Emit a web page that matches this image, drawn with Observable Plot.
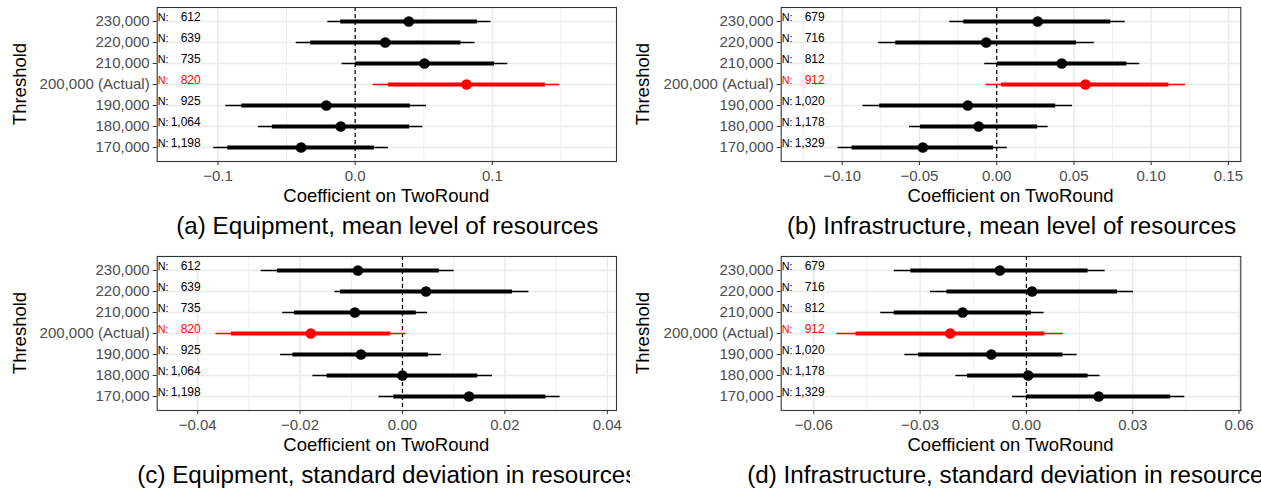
<!DOCTYPE html>
<html>
<head>
<meta charset="utf-8">
<script src="https://cdn.jsdelivr.net/npm/d3@7"></script>
<script src="https://cdn.jsdelivr.net/npm/@observablehq/plot@0.6"></script>
<style>
  body { margin: 0; background: #fff; }
  #root { position: relative; width: 1261px; height: 491px; overflow: hidden; background: #fff;
          font-family: "Liberation Sans", Arial, Helvetica, sans-serif; }
  .half { position: absolute; top: 0; height: 491px; overflow: hidden; }
  .panel { position: absolute; left: 0; width: 100%; height: 240px; }
  .panel svg { position: absolute; left: 0; top: 0; }
  .lbl { position: absolute; white-space: nowrap; line-height: 1; color: #000; }
</style>
</head>
<body>
<div id="root">
  <div class="half" id="left" style="left:0;width:630px;"></div>
  <div class="half" id="right" style="left:630px;width:631px;"></div>
</div>
<script>
// ---------- data ----------
const thresholds = ["230,000", "220,000", "210,000", "200,000 (Actual)", "190,000", "180,000", "170,000"];
const actualThreshold = "200,000 (Actual)";
const nEquipment = ["612", "639", "735", "820", "925", "1,064", "1,198"];
const nInfrastructure = ["679", "716", "812", "912", "1,020", "1,178", "1,329"];

// (a) Equipment, mean level
const aEst  = [0.0391, 0.0219, 0.0505, 0.0812, -0.0210, -0.0105, -0.0394];
const aLo95 = [-0.0199, -0.0429, -0.0096, 0.0131, -0.0943, -0.0704, -0.1031];
const aHi95 = [0.0990, 0.0873, 0.1113, 0.1492, 0.0520, 0.0493, 0.0242];
const aLo90 = [-0.0105, -0.0324, 0.0003, 0.0242, -0.0826, -0.0604, -0.0929];
const aHi90 = [0.0891, 0.0771, 0.1016, 0.1387, 0.0403, 0.0397, 0.0140];

// (b) Infrastructure, mean level
const bEst  = [0.0265, -0.0068, 0.0421, 0.0575, -0.0187, -0.0117, -0.0478];
const bLo95 = [-0.0304, -0.0764, -0.0078, -0.0070, -0.0866, -0.0564, -0.1027];
const bHi95 = [0.0832, 0.0632, 0.0926, 0.1222, 0.0491, 0.0333, 0.0068];
const bLo90 = [-0.0213, -0.0653, 0.0005, 0.0031, -0.0757, -0.0494, -0.0936];
const bHi90 = [0.0738, 0.0517, 0.0842, 0.1115, 0.0382, 0.0265, -0.0021];

// (c) Equipment, standard deviation
const cEst  = [-0.0087, 0.0046, -0.0093, -0.0179, -0.0081, 0.0000, 0.0130];
const cLo95 = [-0.0276, -0.0132, -0.0234, -0.0364, -0.0238, -0.0175, -0.0046];
const cHi95 = [0.0101, 0.0247, 0.0049, 0.0007, 0.0076, 0.0176, 0.0308];
const cLo90 = [-0.0244, -0.0121, -0.0211, -0.0334, -0.0214, -0.0147, -0.0017];
const cHi90 = [0.0072, 0.0215, 0.0027, -0.0023, 0.0051, 0.0147, 0.0280];

// (d) Infrastructure, standard deviation
const dEst  = [-0.0075, 0.0016, -0.0180, -0.0215, -0.0099, 0.0005, 0.0204];
const dLo95 = [-0.0373, -0.0271, -0.0411, -0.0535, -0.0343, -0.0199, -0.0039];
const dHi95 = [0.0222, 0.0302, 0.0050, 0.0104, 0.0143, 0.0208, 0.0447];
const dLo90 = [-0.0326, -0.0224, -0.0373, -0.0481, -0.0304, -0.0166, 0.0001];
const dHi90 = [0.0174, 0.0257, 0.0014, 0.0052, 0.0103, 0.0174, 0.0407];

// axis ticks
const aMajor = [-0.1, 0, 0.1],                     aMinor = [-0.05, 0.05, 0.15];
const bMajor = [-0.1, -0.05, 0, 0.05, 0.1, 0.15],  bMinor = [-0.125, -0.075, -0.025, 0.025, 0.075, 0.125];
const cMajor = [-0.04, -0.02, 0, 0.02, 0.04],      cMinor = [-0.03, -0.01, 0.01, 0.03];
const dMajor = [-0.06, -0.03, 0, 0.03, 0.06],      dMinor = [-0.045, -0.015, 0.015, 0.045];

const captions = [
  "(a) Equipment, mean level of resources",
  "(b) Infrastructure, mean level of resources",
  "(c) Equipment, standard deviation in resources",
  "(d) Infrastructure, standard deviation in resources"
];
const yTitle = "Threshold";
const xTitle = "Coefficient on TwoRound";

// ---------- drawing ----------
const FONT = '"Liberation Sans", Arial, Helvetica, sans-serif';

function drawPanel(host, top, cfg) {
  const rows = thresholds.map((t, i) => ({
    t, est: cfg.est[i], lo95: cfg.lo95[i], hi95: cfg.hi95[i],
    lo90: cfg.lo90[i], hi90: cfg.hi90[i], n: cfg.n[i],
    color: t === actualThreshold ? "#FF0000" : "#000000"
  }));
  const H = 210, mt = 7, mb = 49;
  const chart = Plot.plot({
    width: cfg.width, height: H,
    marginLeft: cfg.ml, marginRight: cfg.mr, marginTop: mt, marginBottom: mb,
    style: {fontFamily: FONT, fontSize: "15px", background: "transparent", color: "#4D4D4D", overflow: "visible"},
    x: {domain: cfg.domain},
    y: {type: "point", domain: thresholds, padding: 0.6},
    color: {type: "identity"},
    marks: [
      Plot.gridX(cfg.minor, {stroke: "#EBEBEB", strokeOpacity: 1, strokeWidth: 0.8}),
      Plot.gridX(cfg.major, {stroke: "#EBEBEB", strokeOpacity: 1, strokeWidth: 1.5}),
      Plot.gridY(thresholds, {stroke: "#EBEBEB", strokeOpacity: 1, strokeWidth: 1.5}),
      Plot.ruleX([0], {stroke: "#000", strokeWidth: 1.2, strokeDasharray: "4,3"}),
      Plot.ruleY(rows, {y: "t", x1: "lo95", x2: "hi95", stroke: "color", strokeWidth: 1.6}),
      Plot.ruleY(rows, {y: "t", x1: "lo90", x2: "hi90", stroke: "color", strokeWidth: 4.2}),
      Plot.dot(rows, {x: "est", y: "t", r: 5.3, fill: "color"}),
      Plot.text(rows, {y: "t", frameAnchor: "left", text: () => "N:", dx: 0.5, dy: -1,
                       textAnchor: "start", lineAnchor: "bottom", fill: "color", fontSize: 10.8}),
      Plot.text(rows, {y: "t", frameAnchor: "left", text: "n", dx: 43.5, dy: -1,
                       textAnchor: "end", lineAnchor: "bottom", fill: "color", fontSize: 12}),
      Plot.frame({stroke: "#333333", strokeWidth: 1.1}),
      Plot.axisX(cfg.major, {tickFormat: d3.format(cfg.fmt), tickSize: 4, tickPadding: 5,
                             stroke: "#333333", fill: "#4D4D4D", fontSize: 15, label: null}),
      Plot.axisY(thresholds, {tickSize: 4, tickPadding: 3.5, stroke: "#333333", fill: "#4D4D4D",
                              fontSize: 15, label: null})
    ]
  });

  const panel = document.createElement("div");
  panel.className = "panel";
  panel.style.top = top + "px";
  panel.appendChild(chart);

  const cx = (cfg.ml + cfg.width - cfg.mr) / 2;
  const cy = (mt + (H - mb)) / 2;

  const yl = document.createElement("div");
  yl.className = "lbl";
  yl.textContent = yTitle;
  yl.style.fontSize = "18.5px";
  yl.style.left = cfg.ylx + "px";
  yl.style.top = cy + "px";
  yl.style.transform = "translate(-50%,-50%) rotate(-90deg)";
  panel.appendChild(yl);

  const xl = document.createElement("div");
  xl.className = "lbl";
  xl.textContent = xTitle;
  xl.style.fontSize = "18.5px";
  xl.style.left = cx + "px";
  xl.style.top = "195.5px";
  xl.style.transform = "translate(-50%,-50%)";
  panel.appendChild(xl);

  const cap = document.createElement("div");
  cap.className = "lbl";
  cap.textContent = cfg.caption;
  cap.style.fontSize = "24.2px";
  cap.style.left = (cx + 1) + "px";
  cap.style.top = "226px";
  cap.style.transform = "translate(-50%,-50%)";
  panel.appendChild(cap);

  host.appendChild(panel);
}

const left = document.getElementById("left");
const right = document.getElementById("right");

const leftGeom = {width: 630, ml: 156.7, mr: 14, ylx: 20};
const rightGeom = {width: 631, ml: 150.7, mr: 20.7, ylx: 13};

drawPanel(left, 0, {...leftGeom, domain: [-0.1443, 0.1905], major: aMajor, minor: aMinor, fmt: ".1f",
  est: aEst, lo95: aLo95, hi95: aHi95, lo90: aLo90, hi90: aHi90, n: nEquipment, caption: captions[0]});
drawPanel(right, 0, {...rightGeom, domain: [-0.1395, 0.158], major: bMajor, minor: bMinor, fmt: ".2f",
  est: bEst, lo95: bLo95, hi95: bHi95, lo90: bLo90, hi90: bHi90, n: nInfrastructure, caption: captions[1]});
drawPanel(left, 249, {...leftGeom, domain: [-0.0479, 0.0418], major: cMajor, minor: cMinor, fmt: ".2f",
  est: cEst, lo95: cLo95, hi95: cHi95, lo90: cLo90, hi90: cHi90, n: nEquipment, caption: captions[2]});
drawPanel(right, 249, {...rightGeom, domain: [-0.0692, 0.0605], major: dMajor, minor: dMinor, fmt: ".2f",
  est: dEst, lo95: dLo95, hi95: dHi95, lo90: dLo90, hi90: dHi90, n: nInfrastructure, caption: captions[3]});
</script>
</body>
</html>
